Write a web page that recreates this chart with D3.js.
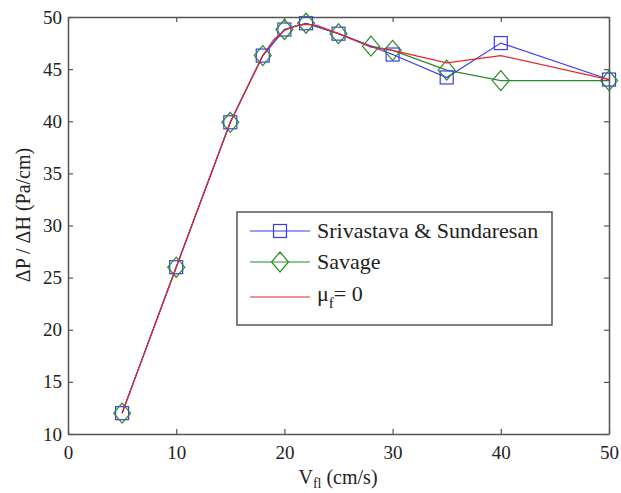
<!DOCTYPE html>
<html>
<head>
<meta charset="utf-8">
<script src="https://cdn.jsdelivr.net/npm/d3@7"></script>
<style>
  body { margin: 0; background: #fff; }
  svg text { font-family: 'Liberation Serif', 'Times New Roman', Tinos, 'DejaVu Serif', serif; fill: #222; }
</style>
</head>
<body>
<script>
// data
let xSriv = [5, 10, 15, 18, 20, 22, 25, 30, 35, 40, 50];
let ySriv = [12, 26, 39.9, 46.3, 48.8, 49.4, 48.4, 46.4, 44.2, 47.5, 44];
let xSavage = [5, 10, 15, 18, 20, 22, 25, 28, 30, 35, 40, 50];
let ySavage = [12, 26, 39.9, 46.3, 48.8, 49.4, 48.4, 47.2, 46.8, 44.9, 43.9, 43.9];
let xMu = [5, 10, 15, 18, 19, 20, 21, 22, 23, 25, 28, 30, 35, 40, 50];
let yMu = [12, 26, 39.9, 46.3, 47.8, 48.7, 49.15, 49.3, 49.2, 48.4, 47.1, 46.8, 45.6, 46.3, 44];
let xTicks = [0, 10, 20, 30, 40, 50];
let yTicks = [10, 15, 20, 25, 30, 35, 40, 45, 50];

const W = 621, H = 493;
const pLeft = 68, pRight = 609, pTop = 17, pBottom = 434;
const fontFam = "'Liberation Serif', 'Times New Roman', Tinos, 'DejaVu Serif', serif";

const svg = d3.select('body').append('svg')
    .attr('width', W)
    .attr('height', H);

const x = d3.scaleLinear().domain([0, 50]).range([pLeft, pRight]);
const y = d3.scaleLinear().domain([10, 50]).range([pBottom, pTop]);

const axisColor = '#555';

// axes (ticks point inwards, mirrored on top and right)
svg.append('g')
    .attr('transform', `translate(0,${pBottom})`)
    .call(d3.axisBottom(x).tickValues(xTicks).tickSizeInner(-5).tickSizeOuter(0).tickPadding(12));
svg.append('g')
    .attr('transform', `translate(0,${pTop})`)
    .call(d3.axisTop(x).tickValues(xTicks).tickSizeInner(-5).tickSizeOuter(0).tickFormat(''));
svg.append('g')
    .attr('transform', `translate(${pLeft},0)`)
    .call(d3.axisLeft(y).tickValues(yTicks).tickSizeInner(-5).tickSizeOuter(0).tickPadding(6));
svg.append('g')
    .attr('transform', `translate(${pRight},0)`)
    .call(d3.axisRight(y).tickValues(yTicks).tickSizeInner(-5).tickSizeOuter(0).tickFormat(''));

svg.selectAll('g').attr('font-family', fontFam).attr('font-size', 19);
svg.selectAll('.domain').attr('stroke', axisColor).attr('stroke-width', 1.5);
svg.selectAll('.tick line').attr('stroke', axisColor).attr('stroke-width', 1.2);
svg.selectAll('.tick text').attr('fill', '#222');

// axis labels
const xl = svg.append('text')
    .attr('x', 338).attr('y', 484)
    .attr('text-anchor', 'middle')
    .style('font-size', '20px');
xl.append('tspan').text('V');
xl.append('tspan').attr('dy', 4).style('font-size', '14px').text('fl');
xl.append('tspan').attr('dy', -4).text(' (cm/s)');

svg.append('text')
    .attr('transform', `translate(30,215) rotate(-90)`)
    .attr('text-anchor', 'middle')
    .style('font-size', '20px')
    .text('ΔP / ΔH (Pa/cm)');

// series
const blue = '#3b3bf0', green = '#2a8a2a', red = '#e8262b';

function pts(xs, ys) { return xs.map((v, i) => [v, ys[i]]); }
const line = d3.line().x(d => x(d[0])).y(d => y(d[1]));

const plot = svg.append('g');

plot.append('path').datum(pts(xSavage, ySavage))
    .attr('d', line).attr('fill', 'none').attr('stroke', green).attr('stroke-width', 1.2);
plot.append('path').datum(pts(xSriv, ySriv))
    .attr('d', line).attr('fill', 'none').attr('stroke', blue).attr('stroke-width', 1.2);

const sq = 13;
plot.selectAll('rect.sq').data(pts(xSriv, ySriv)).enter().append('rect')
    .attr('class', 'sq')
    .attr('x', d => x(d[0]) - sq / 2).attr('y', d => y(d[1]) - sq / 2)
    .attr('width', sq).attr('height', sq)
    .attr('fill', 'none').attr('stroke', blue).attr('stroke-width', 1.2);

const dw = 8.5, dh = 10;
const diamond = d => `M${x(d[0])},${y(d[1]) - dh}L${x(d[0]) + dw},${y(d[1])}L${x(d[0])},${y(d[1]) + dh}L${x(d[0]) - dw},${y(d[1])}Z`;
plot.selectAll('path.dm').data(pts(xSavage, ySavage)).enter().append('path')
    .attr('class', 'dm')
    .attr('d', diamond)
    .attr('fill', 'none').attr('stroke', green).attr('stroke-width', 1.2);

plot.append('path').datum(pts(xMu, yMu))
    .attr('d', line).attr('fill', 'none').attr('stroke', red).attr('stroke-width', 1.2);

// legend
const lg = svg.append('g');
lg.append('rect')
    .attr('x', 237).attr('y', 212).attr('width', 315).attr('height', 113)
    .attr('fill', '#fff').attr('stroke', axisColor).attr('stroke-width', 1.5);

const rows = [
    { y: 231, color: blue, mark: 'sq', label: 'Srivastava & Sundaresan' },
    { y: 262, color: green, mark: 'dm', label: 'Savage' },
    { y: 297, color: red, mark: null, label: null }
];
rows.forEach(r => {
    lg.append('line').attr('x1', 250).attr('x2', 310).attr('y1', r.y).attr('y2', r.y)
        .attr('stroke', r.color).attr('stroke-width', 1.2);
    if (r.mark === 'sq') {
        lg.append('rect').attr('x', 280 - sq / 2).attr('y', r.y - sq / 2)
            .attr('width', sq).attr('height', sq)
            .attr('fill', 'none').attr('stroke', r.color).attr('stroke-width', 1.2);
    } else if (r.mark === 'dm') {
        lg.append('path')
            .attr('d', `M280,${r.y - dh}L${280 + dw},${r.y}L280,${r.y + dh}L${280 - dw},${r.y}Z`)
            .attr('fill', 'none').attr('stroke', r.color).attr('stroke-width', 1.2);
    }
    if (r.label) {
        lg.append('text').attr('x', 317).attr('y', r.y + 7)
            .style('font-size', '22px').text(r.label);
    }
});
const mu = lg.append('text').attr('x', 317).attr('y', 297 + 4).style('font-size', '22px');
mu.append('tspan').text('μ');
mu.append('tspan').attr('dy', 7).style('font-size', '15px').text('f');
mu.append('tspan').attr('dy', -7).text('= 0');
</script>
</body>
</html>
